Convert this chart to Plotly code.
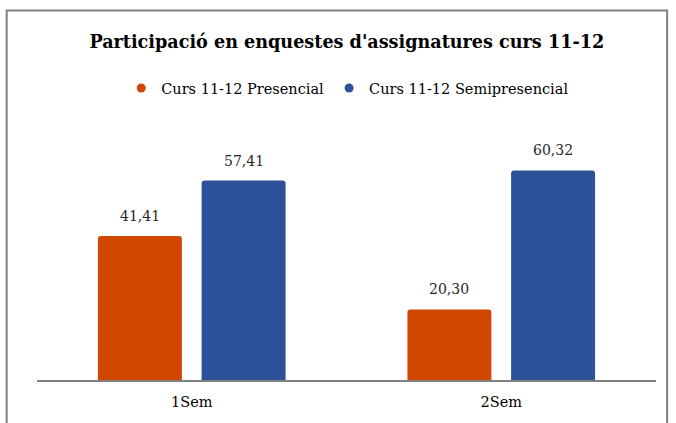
import plotly.graph_objects as go

# Data
categories = ['1Sem', '2Sem']
presencial = [41.41, 20.30]
semipresencial = [57.41, 60.32]
series_names = ['Curs 11-12 Presencial', 'Curs 11-12 Semipresencial']

COLORS = {
    'orange': '#D04800',
    'blue': '#2E5299',
    'axis': '#808080',
    'text': '#262626',
}

FONT = 'DejaVu Serif, Liberation Serif, serif'
BARGAP = 0.33

fig = go.Figure()
series = [(series_names[0], presencial, COLORS['orange']),
          (series_names[1], semipresencial, COLORS['blue'])]
for k, (name, vals, color) in enumerate(series):
    fig.add_trace(go.Bar(
        x=categories, y=vals, name=name, showlegend=False,
        marker=dict(color=color, cornerradius=3, line=dict(width=0)),
    ))
    # legend-only entry with a small rounded marker
    fig.add_trace(go.Scatter(
        x=[None], y=[None], name=name, mode='markers',
        marker=dict(color=color, size=9, symbol='circle'),
    ))
    # value labels, placed above the centre of each grouped bar
    offset = (k - 0.5) * (1 - BARGAP) / 2
    for i, v in enumerate(vals):
        fig.add_annotation(
            x=i + offset, y=v, text=f'{v:.2f}'.replace('.', ','),
            showarrow=False, yanchor='bottom', yshift=10,
            font=dict(family=FONT, size=14, color=COLORS['text']),
        )

fig.update_layout(
    width=676, height=423,
    margin=dict(l=37, r=20, t=102, b=43),
    paper_bgcolor='white', plot_bgcolor='white',
    font=dict(family=FONT, color=COLORS['text']),
    title=dict(
        text="<b>Participació en enquestes d'assignatures curs 11-12</b>",
        font=dict(family=FONT, size=17.6, color='#000000'),
        x=0.513, xanchor='center', y=0.9, yanchor='middle',
    ),
    legend=dict(
        orientation='h', x=0.502, xanchor='center', y=1.05, yanchor='middle',
        font=dict(family=FONT, size=14.5, color='#000000'),
        itemwidth=30, traceorder='normal',
    ),
    bargap=BARGAP, bargroupgap=0.19,
    xaxis=dict(
        showline=True, linecolor=COLORS['axis'], linewidth=2,
        ticks='', ticklabelstandoff=8,
        tickfont=dict(family=FONT, size=14.5, color='#000000'),
        showgrid=False,
    ),
    yaxis=dict(range=[0, 80], visible=False, showgrid=False),
    shapes=[dict(
        type='rect', xref='paper', yref='paper',
        x0=-0.049, x1=1.018, y0=-0.2, y1=1.329,
        line=dict(color='#808080', width=2), layer='below',
    )],
)

fig.write_html('out.html', config={'displayModeBar': False},
               post_script="document.body.style.margin='0';")
